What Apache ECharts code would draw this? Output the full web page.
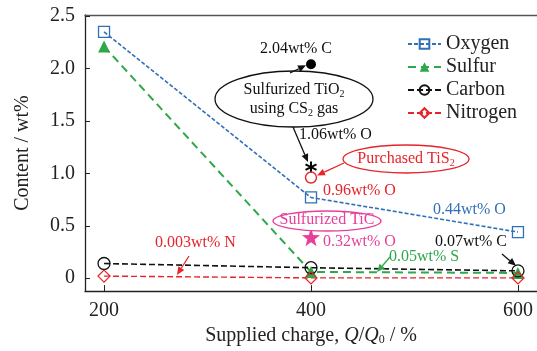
<!DOCTYPE html>
<html><head><meta charset="utf-8">
<script src="https://cdn.jsdelivr.net/npm/echarts@6/dist/echarts.min.js"></script>
<style>html,body{margin:0;padding:0;background:#fff}#c{width:537px;height:351px}</style>
</head><body><div id="c"></div>
<script>
const charges = [200, 400, 600];
const oxygen = [2.35, 0.77, 0.44];
const sulfur = [2.21, 0.06, 0.05];
const carbon = [0.14, 0.10, 0.07];
const nitrogen = [0.02, 0.003, 0.003];
const tio2Carbon = [400, 2.04];
const tio2Oxygen = [400, 1.06];
const tis2Oxygen = [400, 0.96];
const ticOxygen = [400, 0.39];
const xTicks = [200, 400, 600];
const yTicks = [0, 0.5, 1.0, 1.5, 2.0, 2.5];

const FONT = '"Liberation Serif", "DejaVu Serif", serif';
const BLUE = '#2f70b8', GREEN = '#2ea84a', BLACK = '#111', RED = '#e8232a', PINK = '#e8409a';

const chart = echarts.init(document.getElementById('c'));
const zip = v => charges.map((c, i) => [c, v[i]]);
const lineSeries = (name, vals, color, symbol, size, dash, width, filled) => ({
  name, type: 'line', data: zip(vals), symbol, symbolSize: size,
  lineStyle: { color, type: dash, width },
  itemStyle: filled ? { color } : { color: 'rgba(255,255,255,0)', borderColor: color, borderWidth: 1.3 },
  emphasis: { disabled: true }, z: 3
});
const star = 'path://M0,-10L2.35,-3.24L9.51,-3.09L3.8,1.24L5.88,8.09L0,4L-5.88,8.09L-3.8,1.24L-9.51,-3.09L-2.35,-3.24Z';
const asterisk = 'path://M0,-10L0,10M-8.66,-5L8.66,5M-8.66,5L8.66,-5';

chart.setOption({
  animation: false,
  textStyle: { fontFamily: FONT },
  grid: { left: 85, top: 15, right: 0, bottom: 58 },
  legend: {
    orient: 'vertical', left: 402, top: 29, itemWidth: 33, itemHeight: 12, itemGap: 3,
    textStyle: { fontFamily: FONT, fontSize: 20, color: '#222' },
    data: ['Oxygen', 'Sulfur', 'Carbon', 'Nitrogen']
  },
  xAxis: [{
    type: 'value', min: 181.6, max: 618.4, position: 'bottom',
    name: 'Supplied charge, {i|Q}/{i|Q}{s|0} / %', nameLocation: 'middle', nameGap: 28,
    nameTextStyle: { fontFamily: FONT, fontSize: 20, color: '#222',
      rich: { i: { fontStyle: 'italic', fontFamily: FONT, fontSize: 20, color: '#222' },
              s: { fontFamily: FONT, fontSize: 12, color: '#222', verticalAlign: 'bottom', padding: [8, 0, 0, 0] } } },
    axisLine: { show: true, onZero: false, lineStyle: { color: '#222', width: 1.3 } },
    axisTick: { show: true, inside: true, length: 6, customValues: xTicks, lineStyle: { color: '#222' } },
    axisLabel: { customValues: xTicks, fontSize: 20, color: '#222', margin: 10, fontFamily: FONT },
    splitLine: { show: false }
  }, {
    type: 'value', min: 181.6, max: 618.4, position: 'top',
    axisLine: { show: true, onZero: false, lineStyle: { color: '#555', width: 1.3 } },
    axisTick: { show: false }, axisLabel: { show: false }, splitLine: { show: false }
  }],
  yAxis: {
    type: 'value', min: -0.123, max: 2.51,
    name: 'Content / wt%', nameLocation: 'middle', nameGap: 52,
    nameTextStyle: { fontFamily: FONT, fontSize: 20, color: '#222' },
    axisLine: { show: true, onZero: false, lineStyle: { color: '#222', width: 1.3 } },
    axisTick: { show: true, inside: true, length: 5, customValues: yTicks, lineStyle: { color: '#222' } },
    axisLabel: { customValues: yTicks, fontSize: 20, color: '#222', margin: 10, fontFamily: FONT,
      formatter: v => v === 0 ? '0' : v.toFixed(1) },
    splitLine: { show: false }
  },
  series: [
    lineSeries('Oxygen', oxygen, BLUE, 'rect', 11, [4, 2], 1.6, false),
    lineSeries('Sulfur', sulfur, GREEN, 'triangle', 12, [8, 5], 2, true),
    lineSeries('Carbon', carbon, BLACK, 'circle', 12, [6, 3], 1.6, false),
    lineSeries('Nitrogen', nitrogen, RED, 'diamond', 12, [6, 3], 1.4, false),
    { type: 'scatter', data: [tio2Carbon], symbol: 'circle', symbolSize: 10, itemStyle: { color: '#000', opacity: 1 }, z: 4 },
    { type: 'scatter', data: [tio2Oxygen], symbol: asterisk, symbolSize: 11, itemStyle: { color: 'none', borderColor: '#000', borderWidth: 2, opacity: 1 }, z: 4 },
    { type: 'scatter', data: [tis2Oxygen], symbol: 'circle', symbolSize: 11, itemStyle: { color: 'rgba(255,255,255,0)', borderColor: RED, borderWidth: 1.4, opacity: 1 }, z: 4 },
    { type: 'scatter', data: [ticOxygen], symbol: star, symbolSize: 18, itemStyle: { color: PINK, opacity: 1 }, z: 4 }
  ]
});

function px(p) { return chart.convertToPixel({ xAxisIndex: 0, yAxisIndex: 0 }, p); }
function arrow(x1, y1, x2, y2, color) {
  const a = Math.atan2(y2 - y1, x2 - x1), L = 8, W = 3.5;
  const bx = x2 - L * Math.cos(a), by = y2 - L * Math.sin(a);
  return [
    { type: 'line', shape: { x1, y1, x2: bx, y2: by }, style: { stroke: color, lineWidth: 1.3 }, z: 10 },
    { type: 'polygon', shape: { points: [[x2, y2], [bx + W * Math.sin(a), by - W * Math.cos(a)], [bx - W * Math.sin(a), by + W * Math.cos(a)]] }, style: { fill: color }, z: 10 }
  ];
}
function txt(x, y, text, color, align, rich) {
  return { type: 'text', x, y, z: 11, style: { text, fill: color, font: '16px ' + FONT, align: align || 'left', verticalAlign: 'middle', rich } };
}
const subRich = c => ({ s: { fontSize: 10, fontFamily: FONT, fill: c, padding: [8, 0, 0, 0] } });
const pC = px(tio2Carbon), pO = px(tio2Oxygen), pS2 = px(tis2Oxygen), pC6 = px([600, carbon[2]]);
const els = [
  txt(260, 49, '2.04wt% C', BLACK),
  ...arrow(290, 73, pC[0] - 5, pC[1] + 1, BLACK),
  { type: 'ellipse', shape: { cx: 294, cy: 99, rx: 79, ry: 28 }, style: { fill: '#fff', stroke: BLACK, lineWidth: 1.3 }, z: 9 },
  txt(294, 90, 'Sulfurized TiO{s|2}', BLACK, 'center', subRich(BLACK)),
  txt(294, 109, 'using CS{s|2} gas', BLACK, 'center', subRich(BLACK)),
  ...arrow(293, 127, pO[0] - 3, pO[1] - 5, BLACK),
  txt(299, 135, '1.06wt% O', BLACK),
  { type: 'ellipse', shape: { cx: 406, cy: 159, rx: 63, ry: 14 }, style: { fill: '#fff', stroke: RED, lineWidth: 1.3 }, z: 9 },
  txt(406, 159, 'Purchased TiS{s|2}', RED, 'center', subRich(RED)),
  ...arrow(344, 163, pS2[0] + 6, pS2[1] - 2, RED),
  txt(323, 191, '0.96wt% O', RED),
  txt(433, 210, '0.44wt% O', BLUE),
  { type: 'ellipse', shape: { cx: 327, cy: 221, rx: 54, ry: 10 }, style: { fill: '#fff', stroke: PINK, lineWidth: 1.3 }, z: 9 },
  txt(327, 220, 'Sulfurized TiC', PINK, 'center'),
  txt(323, 242, '0.32wt% O', PINK),
  txt(389, 257, '0.05wt% S', GREEN),
  ...arrow(390, 257, 377, 272, GREEN),
  txt(435, 242, '0.07wt% C', BLACK),
  ...arrow(502, 254, pC6[0] - 2, pC6[1] - 5, BLACK),
  txt(155, 243, '0.003wt% N', RED),
  ...arrow(189, 256, 177, 275, RED)
];
chart.setOption({ graphic: { elements: els } });
</script></body></html>
